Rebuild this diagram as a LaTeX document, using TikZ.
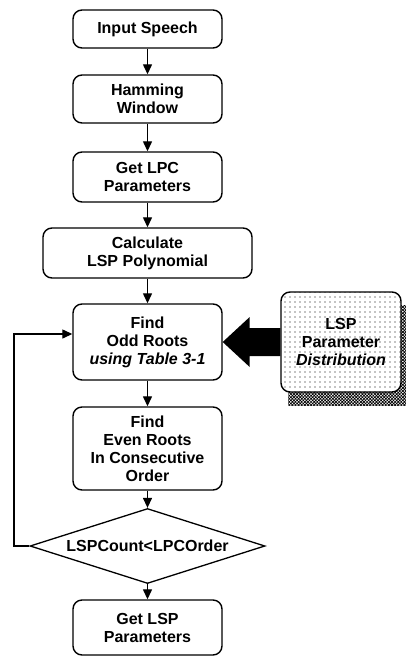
\documentclass[tikz,border=0pt]{standalone}
\usepackage{fontspec}
\setmainfont{Liberation Sans}
\usetikzlibrary{shapes.geometric,arrows.meta,patterns,patterns.meta,calc}
\tikzset{
  stepbox/.style={draw=black, line width=1.4pt, rounded corners=9pt, align=center, inner sep=0pt, fill=white,
    font=\fontsize{16}{18}\selectfont\bfseries},
  decbox/.style={draw=black, line width=1.3pt, shape=diamond, inner sep=0pt, aspect=3.13,
    minimum width=235pt, minimum height=75pt, font=\fontsize{16}{18}\selectfont\bfseries},
  flow/.style={line width=1.3pt, -{Triangle[length=10pt,width=9pt]}}
}
\begin{document}
\begin{tikzpicture}[x=1pt,y=-1pt]
\useasboundingbox (0,0) rectangle (406,657);
\node[stepbox, minimum width=149pt, minimum height=38pt] (inp) at (147.5,29) {Input Speech};
\node[stepbox, minimum width=149pt, minimum height=48pt] (ham) at (147.5,99) {Hamming\\Window};
\node[stepbox, minimum width=149pt, minimum height=50pt] (lpc) at (147.5,177) {Get LPC\\Parameters};
\node[stepbox, minimum width=209pt, minimum height=50pt] (calc) at (147.5,253) {Calculate\\LSP Polynomial};
\node[stepbox, minimum width=149pt, minimum height=76pt] (odd) at (147.5,342) {Find\\Odd Roots\\\textit{using Table 3-1}};
\node[stepbox, minimum width=149pt, minimum height=83pt] (even) at (147.5,448.5) {Find\\Even Roots\\In Consecutive\\Order};
\node[decbox] (dec) at (147.5,546) {LSPCount<LPCOrder};
\node[stepbox, minimum width=149pt, minimum height=55pt] (lsp) at (147.5,627.5) {Get LSP\\Parameters};
% LSP distribution box with shadow
\fill[pattern={Hatch[distance=2.2pt,angle=45,line width=0.7pt]}] (288,305) rectangle (406,405);
\node[stepbox, minimum width=120pt, minimum height=100pt, fill=none,
  preaction={fill=white}, pattern={Dots[distance=5pt,radius=0.7pt]}] (dist) at (341,342)
  {LSP\\Parameter\\\textit{Distribution}};
% flow arrows
\draw[flow] (inp) -- (ham);
\draw[flow] (ham) -- (lpc);
\draw[flow] (lpc) -- (calc);
\draw[flow] (calc) -- (odd);
\draw[flow] (odd) -- (even);
\draw[flow] (even) -- (dec);
\draw[flow] (dec) -- (lsp);
\coordinate (lp) at (14,546);
\draw[flow] (dec.west) -- (dec.west -| lp) |- ($(odd.west)+(0,-8)$);
% fat arrow
\fill (odd.east) -- ++(27,-25) -- ++(0,11) -- ($(dist.west)+(0,-14)$) -- ($(dist.west)+(0,14)$)
  -- ($(odd.east)+(27,14)$) -- ++(0,11) -- cycle;
\end{tikzpicture}
\end{document}
